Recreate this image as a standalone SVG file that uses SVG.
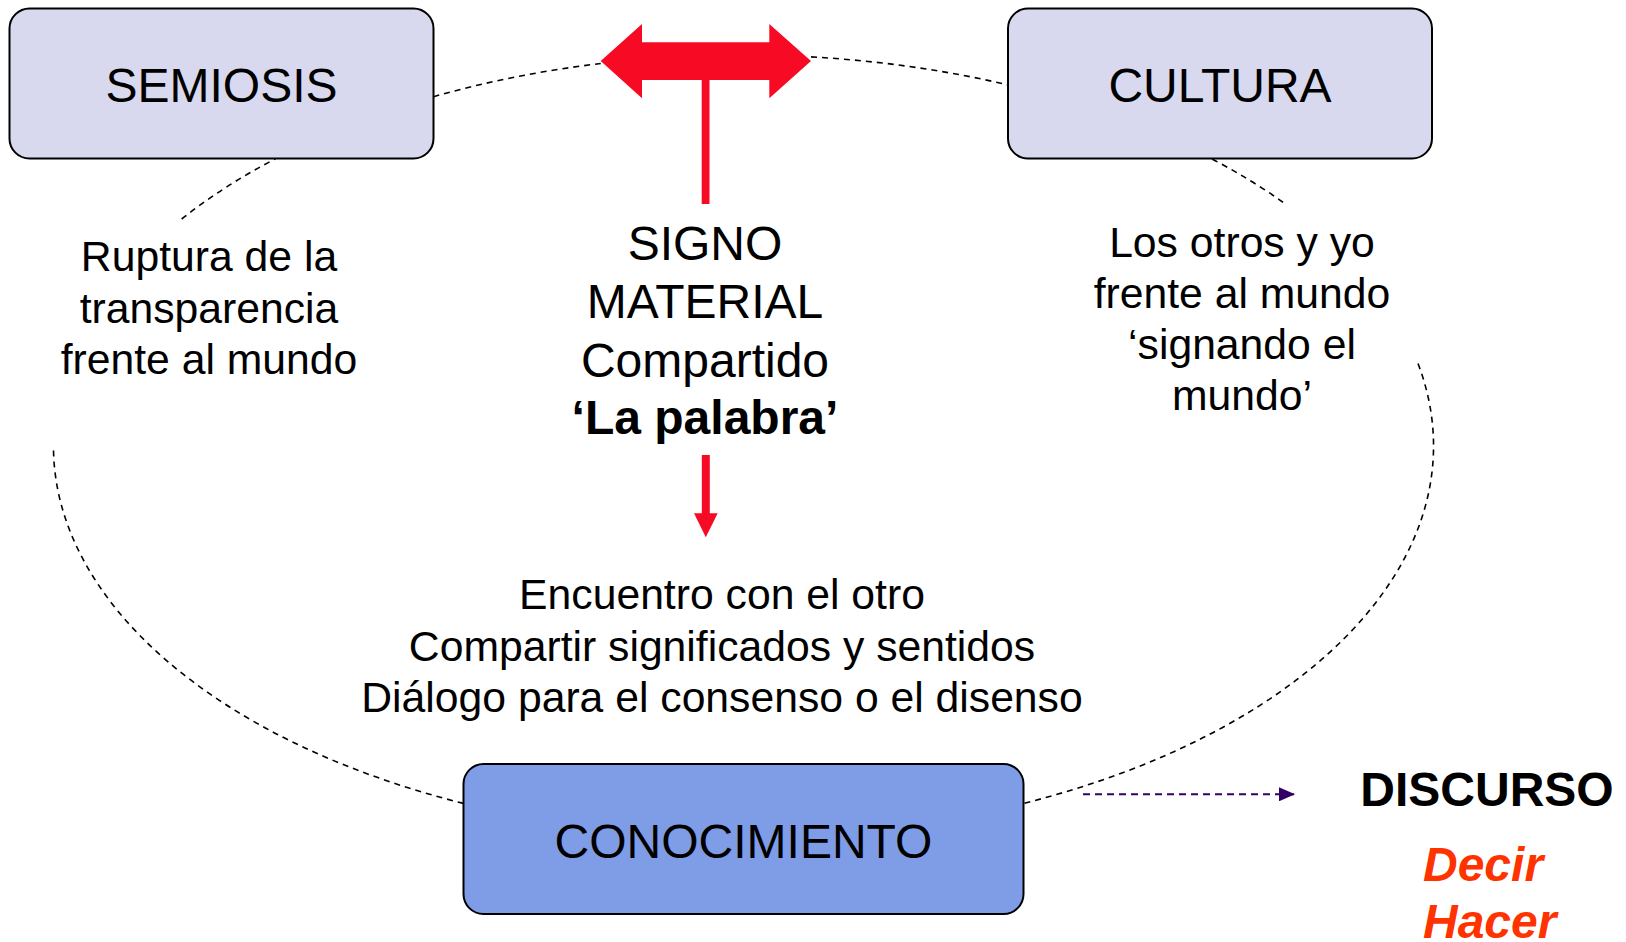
<svg xmlns="http://www.w3.org/2000/svg" width="1626" height="942" viewBox="0 0 1626 942">
<style>
.box{stroke:#000;stroke-width:2}
.lite{fill:#D8D9EE}
.blue{fill:#7F9CE6}
.t{font-family:"Liberation Sans",Arial,sans-serif;fill:#000}
.big{font-size:48px}
.sm{font-size:42.7px}
.dash{fill:none;stroke:#000;stroke-width:1.6;stroke-dasharray:6 5}
.red{fill:#F60A24}
</style>
<defs>
<marker id="pa" markerWidth="16" markerHeight="14" refX="16" refY="7" orient="auto" markerUnits="userSpaceOnUse" viewBox="0 0 16 14">
<path d="M0,0 L16,7 L0,14 Z" fill="#330066"/>
</marker>
</defs>
<g id="connectors">
<path class="dash" d="M433.5,96.7 A690,391 0 0 1 600.7,63.5"/>
<path class="dash" d="M811,56.9 A690,391 0 0 1 1008,84.9"/>
<path class="dash" d="M1212.1,159 A690,391 0 0 1 1285.4,204"/>
<path class="dash" d="M1418,363.5 A690,391 0 0 1 1023.5,803.4"/>
<path class="dash" d="M463.5,803.4 A690,391 0 0 1 53.5,450"/>
<path class="dash" d="M181.7,219 A690,391 0 0 1 275.5,158.7"/>
<line x1="1083" y1="794.3" x2="1295" y2="794.3" stroke="#330066" stroke-width="2" stroke-dasharray="7 5" marker-end="url(#pa)"/>
<g id="red-arrows">
<polygon class="red" points="600.7,61 642,24 642,42.3 769.3,42.3 769.3,24 811,61 769.3,98.3 769.3,80 642,80 642,98.3"/>
<rect class="red" x="701.7" y="79" width="7.8" height="125"/>
<rect class="red" x="701.8" y="455" width="8" height="59"/>
<polygon class="red" points="694,513.3 717.7,513.3 705.8,537.3"/>
</g>
</g>
<g id="semiosis">
<rect class="box lite" x="9.5" y="8.5" width="424" height="150" rx="20"/>
<text class="t big" x="221.5" y="101.5" text-anchor="middle">SEMIOSIS</text>
</g>
<g id="cultura">
<rect class="box lite" x="1008" y="8.5" width="424" height="150" rx="20"/>
<text class="t big" x="1220" y="101.5" text-anchor="middle">CULTURA</text>
</g>
<g id="conocimiento">
<rect class="box blue" x="463.5" y="764" width="560" height="150" rx="20"/>
<text class="t big" x="743.5" y="858" text-anchor="middle">CONOCIMIENTO</text>
</g>
<g id="ruptura">
<text class="t sm" text-anchor="middle"><tspan x="209" y="271">Ruptura de la</tspan><tspan x="209" y="322.5">transparencia</tspan><tspan x="209" y="374">frente al mundo</tspan></text>
</g>
<g id="signo">
<text class="t big" text-anchor="middle"><tspan x="705" y="260">SIGNO</tspan><tspan x="705" y="318">MATERIAL</tspan><tspan x="705" y="377">Compartido</tspan><tspan x="705" y="434" font-weight="bold">‘La palabra’</tspan></text>
</g>
<g id="otros">
<text class="t sm" text-anchor="middle"><tspan x="1242" y="256.5">Los otros y yo</tspan><tspan x="1242" y="308">frente al mundo</tspan><tspan x="1242" y="359">‘signando el</tspan><tspan x="1242" y="410">mundo’</tspan></text>
</g>
<g id="encuentro">
<text class="t sm" text-anchor="middle"><tspan x="722" y="609">Encuentro con el otro</tspan><tspan x="722" y="660.5">Compartir significados y sentidos</tspan><tspan x="722" y="712">Diálogo para el consenso o el disenso</tspan></text>
</g>
<g id="discurso">
<text class="t big" x="1487" y="806" text-anchor="middle" font-weight="bold">DISCURSO</text>
<text class="t big" x="1423" y="881" font-weight="bold" font-style="italic" style="fill:#FF3300">Decir</text>
<text class="t big" x="1423" y="938" font-weight="bold" font-style="italic" style="fill:#FF3300">Hacer</text>
</g>
</svg>
